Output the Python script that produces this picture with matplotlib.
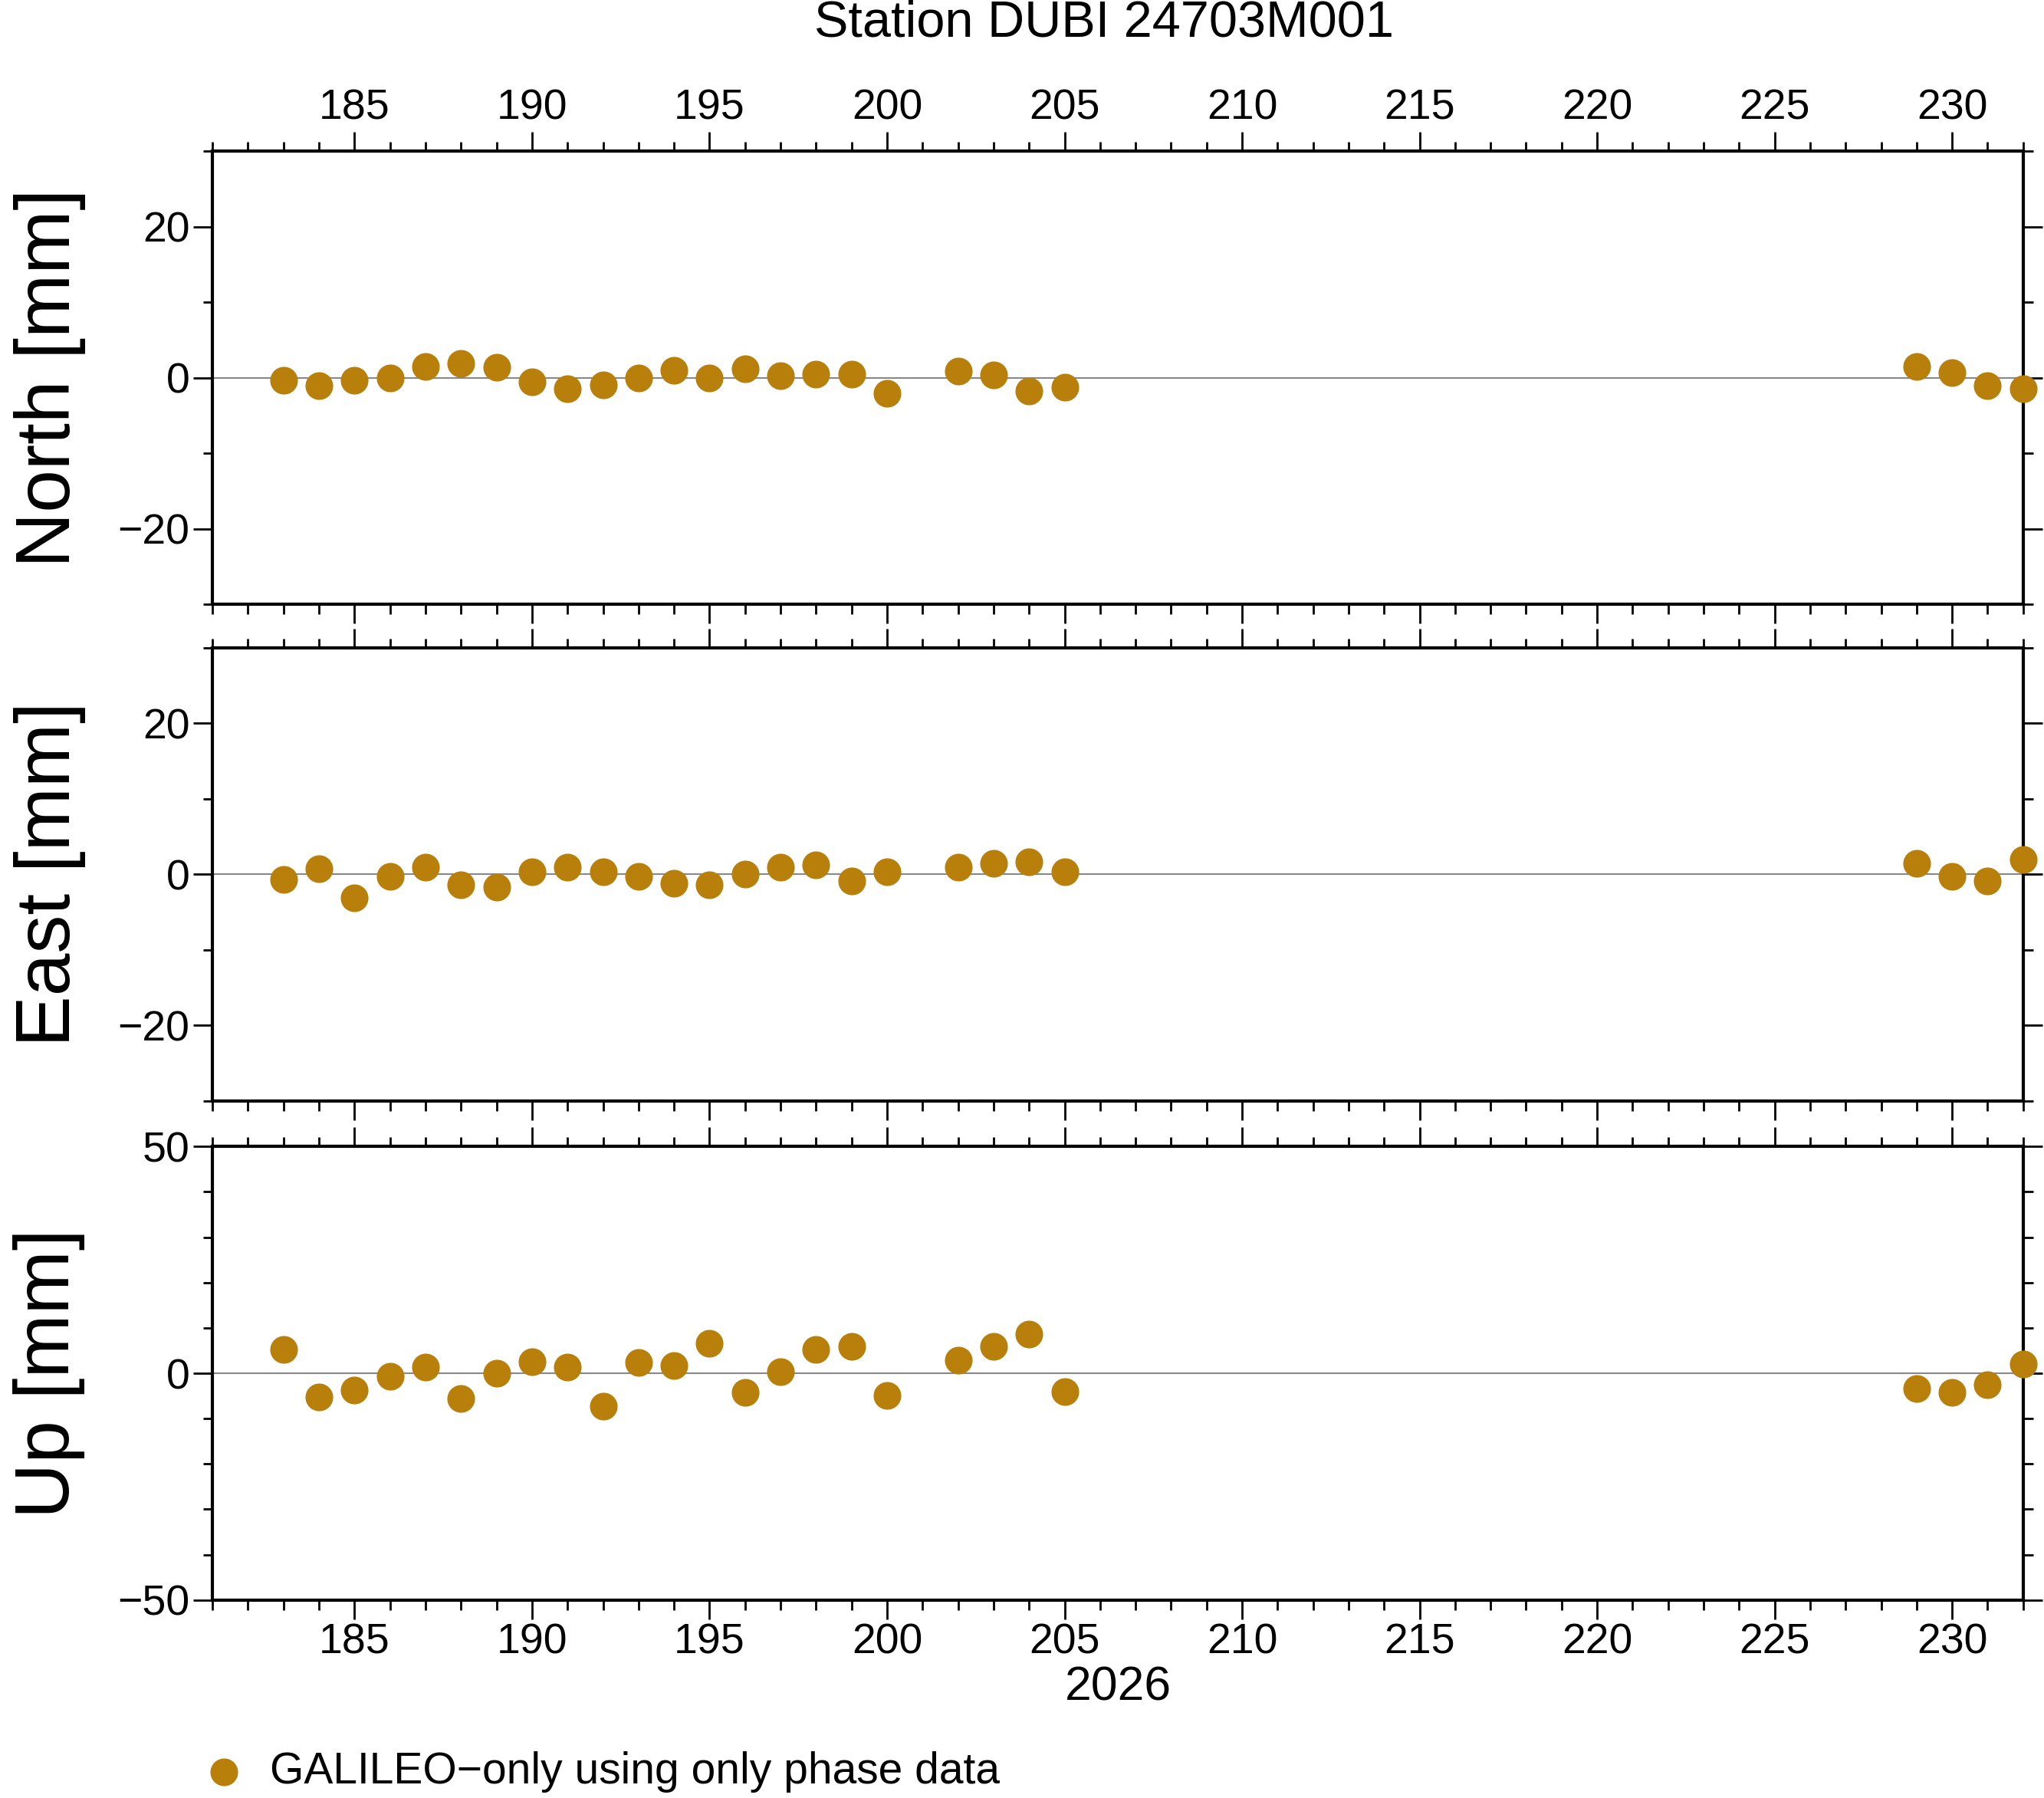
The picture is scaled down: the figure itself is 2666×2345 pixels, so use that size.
import matplotlib
matplotlib.use("Agg")
import matplotlib.pyplot as plt
from matplotlib.ticker import MultipleLocator
from matplotlib.lines import Line2D

plt.rcParams['font.family'] = ['Liberation Sans', 'DejaVu Sans']

days = [183,184,185,186,187,188,189,190,191,192,193,194,195,196,197,198,199,200,
        202,203,204,205,229,230,231,232]
north = [-0.3,-1,-0.3,0,1.5,1.9,1.4,-0.5,-1.4,-0.9,0,1,0,1.2,0.3,0.5,0.5,-2.1,
         0.9,0.4,-1.7,-1.2,1.5,0.7,-1,-1.4]
east = [-0.7,0.7,-3.1,-0.3,0.9,-1.4,-1.7,0.3,0.9,0.3,-0.3,-1.2,-1.4,0,0.9,1.2,-0.9,0.3,
        0.9,1.4,1.6,0.3,1.4,-0.3,-0.9,1.9]
up = [5.2,-5.2,-3.7,-0.6,1.4,-5.5,0,2.6,1.4,-7.2,2.3,1.7,6.6,-4.3,0.3,5.2,6,-4.9,
      2.9,6,8.6,-4,-3.4,-4.3,-2.6,2]
labels = ['North [mm]', 'East [mm]', 'Up [mm]']
ylims = [(-30, 30), (-30, 30), (-50, 50)]
ymajor = [20, 20, 50]
color = '#B8800B'

fig = plt.figure(figsize=(26.66, 23.45), dpi=100)
L, R = 163/1568, 1552/1568
panels = [(116, 464), (497, 845), (880, 1228)]
for i, (series, lab, yl, ym) in enumerate(zip([north, east, up], labels, ylims, ymajor)):
    t, b = panels[i]
    ax = fig.add_axes([L, 1-b/1380, R-L, (b-t)/1380])
    ax.axhline(0, color='#888888', lw=1.5, zorder=1)
    ax.plot(days, series, 'o', color=color, ms=25, clip_on=False, zorder=3)
    ax.set_xlim(181, 232)
    ax.set_ylim(*yl)
    ax.xaxis.set_major_locator(MultipleLocator(5))
    ax.xaxis.set_minor_locator(MultipleLocator(1))
    ax.yaxis.set_major_locator(MultipleLocator(ym))
    ax.yaxis.set_minor_locator(MultipleLocator(10))
    ax.tick_params(which='both', direction='out', top=True, right=True, width=2, labelsize=40)
    ax.tick_params(which='major', length=18)
    ax.tick_params(which='minor', length=9)
    ax.tick_params(axis='x', labeltop=(i == 0), labelbottom=(i == 2))
    for s in ax.spines.values():
        s.set_linewidth(3)
    ax.set_ylabel(lab, fontsize=72, labelpad=30)
    if i == 2:
        ax.set_xlabel('2026', fontsize=45, labelpad=2)

fig.text(0.54, 1-18/1380, 'Station DUBI 24703M001', fontsize=48, ha='center', va='center')
fig.add_artist(Line2D([172/1568], [1-1360/1380], marker='o', color=color, ms=25,
                      transform=fig.transFigure))
fig.text(207/1568, 1-1360/1380, 'GALILEO\u2212only using only phase data', fontsize=41,
         va='center', ha='left')
fig.savefig('out.png', dpi=100)
